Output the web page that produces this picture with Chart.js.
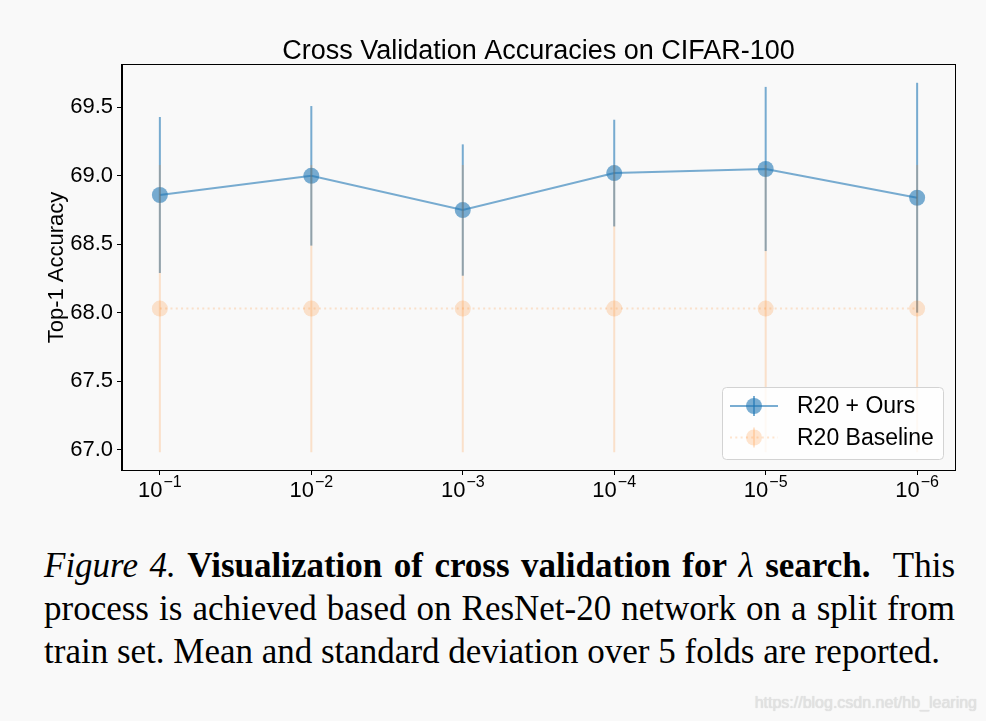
<!DOCTYPE html>
<html>
<head>
<meta charset="utf-8">
<script src="https://cdn.jsdelivr.net/npm/chart.js@4.4.1/dist/chart.umd.min.js"></script>
<style>
  body { margin: 0; background: #f9f9f9; width: 986px; height: 721px; overflow: hidden; position: relative; }
  #chartBox { position: absolute; left: 0; top: 0; width: 986px; height: 520px; }
  .caption { position: absolute; left: 44px; top: 544px; width: 911px; font-family: 'Liberation Serif', 'Times New Roman', serif; font-size: 35px; line-height: 43px; color: #000; }
  .caption div { text-align: justify; text-align-last: justify; white-space: nowrap; }
  .caption div.last { text-align-last: left; }
  .watermark { position: absolute; right: 9px; top: 694px; font-family: 'Liberation Sans', Arial, sans-serif; font-size: 16px; color: #e2e2e2; text-shadow: 0 0 1px #cfcfcf; }
</style>
</head>
<body>
<div id="chartBox"><canvas id="cvChart" width="986" height="520"></canvas></div>
<div class="caption">
  <div><i>Figure 4.</i> <b>Visualization of cross validation for</b> <i>λ</i> <b>search.</b>&nbsp; This</div>
  <div>process is achieved based on ResNet-20 network on a split from</div>
  <div class="last">train set. Mean and standard deviation over 5 folds are reported.</div>
</div>
<div class="watermark">https://blog.csdn.net/hb_learing</div>
<script>
// lambda exponents (x axis: 10^exp)
const lambdaExp = ['-1', '-2', '-3', '-4', '-5', '-6'];
const yTicks = [67.0, 67.5, 68.0, 68.5, 69.0, 69.5];
const chartTitle = 'Cross Validation Accuracies on CIFAR-100';

// R20 + Ours: mean and std over 5 folds
const oursMean = [68.86, 69.00, 68.75, 69.02, 69.05, 68.84];
const oursStd = [0.57, 0.51, 0.48, 0.39, 0.60, 0.84];

// R20 Baseline
const baseMean = [68.03, 68.03, 68.03, 68.03, 68.03, 68.03];
const baseStd = [1.05, 1.05, 1.05, 1.05, 1.05, 1.05];

const blue = 'rgba(31,119,180,0.6)';
const orange = 'rgba(255,127,14,0.2)';
const sans = "'Liberation Sans', Arial, sans-serif";

const series = [
  { label: 'R20 + Ours', mean: oursMean, std: oursStd, color: blue, dash: [] },
  { label: 'R20 Baseline', mean: baseMean, std: baseStd, color: orange, dash: [2, 3.3] }
];

// vertical error bars, drawn right after each dataset
const errorBars = {
  id: 'errorBars',
  afterDatasetDraw(chart, args) {
    const s = series[args.index];
    const { ctx, scales: { x, y } } = chart;
    ctx.save();
    ctx.strokeStyle = s.color;
    ctx.lineWidth = 2;
    s.mean.forEach((m, i) => {
      const px = x.getPixelForValue(i);
      ctx.beginPath();
      ctx.moveTo(px, y.getPixelForValue(m - s.std[i]));
      ctx.lineTo(px, y.getPixelForValue(m + s.std[i]));
      ctx.stroke();
    });
    ctx.restore();
  }
};

// title over the plot area, box frame, x tick labels with superscripts, legend
const decorations = {
  id: 'decorations',
  afterDraw(chart) {
    const { ctx, chartArea: a, scales: { x } } = chart;
    ctx.save();
    ctx.fillStyle = '#000';
    ctx.font = '27px ' + sans;
    ctx.textAlign = 'center';
    ctx.textBaseline = 'alphabetic';
    ctx.fillText(chartTitle, (a.left + a.right) / 2, 59);

    ctx.strokeStyle = '#000';
    ctx.lineWidth = 1;
    ctx.strokeRect(Math.round(a.left) - 0.5, Math.round(a.top) - 0.5, Math.round(a.right - a.left) + 1, Math.round(a.bottom - a.top) + 1);

    // x tick labels: 10^exp
    lambdaExp.forEach((e, i) => {
      const px = x.getPixelForValue(i);
      ctx.font = '22px ' + sans;
      const wBase = ctx.measureText('10').width;
      ctx.font = '16px ' + sans;
      const sup = '\u2212' + e.replace('-', '');
      const wSup = ctx.measureText(sup).width;
      const start = px - (wBase + 1 + wSup) / 2;
      ctx.font = '22px ' + sans;
      ctx.textAlign = 'left';
      ctx.fillText('10', start, 497);
      ctx.font = '16px ' + sans;
      ctx.fillText(sup, start + wBase + 1, 487);
    });

    // legend
    const lx = 722, ly = 387, lw = 221, lh = 72;
    ctx.beginPath();
    ctx.roundRect(lx + 0.5, ly + 0.5, lw, lh, 4);
    ctx.fillStyle = 'rgba(255,255,255,0.8)';
    ctx.fill();
    ctx.strokeStyle = '#d3d3d3';
    ctx.stroke();
    series.forEach((s, k) => {
      const cy = 406 + k * 31.5;
      ctx.strokeStyle = s.color;
      ctx.fillStyle = s.color;
      ctx.lineWidth = 2;
      ctx.setLineDash(s.dash);
      ctx.beginPath();
      ctx.moveTo(730, cy);
      ctx.lineTo(778, cy);
      ctx.stroke();
      ctx.setLineDash([]);
      ctx.beginPath();
      ctx.arc(754, cy, 8, 0, Math.PI * 2);
      ctx.fill();
      ctx.beginPath();
      ctx.moveTo(754, cy - 10);
      ctx.lineTo(754, cy + 10);
      ctx.stroke();
      ctx.fillStyle = '#000';
      ctx.font = '23px ' + sans;
      ctx.textAlign = 'left';
      ctx.textBaseline = 'middle';
      ctx.fillText(s.label, 797, cy + 1);
    });
    ctx.restore();
  }
};

new Chart(document.getElementById('cvChart').getContext('2d'), {
  type: 'line',
  data: {
    datasets: series.map((s, k) => ({
      label: s.label,
      data: s.mean.map((m, i) => ({ x: i, y: m })),
      borderColor: s.color,
      backgroundColor: s.color,
      borderWidth: 2,
      borderDash: s.dash,
      pointRadius: 8,
      pointBorderWidth: 0,
      pointBackgroundColor: s.color,
      tension: 0,
      order: 2 - k
    }))
  },
  options: {
    responsive: false,
    animation: false,
    layout: { padding: { left: 0, right: 31, top: 65, bottom: 0 } },
    plugins: {
      legend: { display: false },
      tooltip: { enabled: false },
      title: { display: false }
    },
    scales: {
      x: {
        type: 'linear',
        min: -0.25,
        max: 5.25,
        afterBuildTicks: s => { s.ticks = lambdaExp.map((_, i) => ({ value: i })); },
        afterFit: s => { s.height = 50; },
        ticks: { display: false },
        grid: { drawOnChartArea: false, tickLength: 5, color: '#000', tickColor: '#000' },
        border: { color: '#000', width: 1 }
      },
      y: {
        min: 66.85,
        max: 69.81,
        afterBuildTicks: s => { s.ticks = yTicks.map(v => ({ value: v })); },
        afterFit: s => { s.width = 122; },
        ticks: {
          callback: v => v.toFixed(1),
          color: '#000',
          font: { family: sans, size: 22 },
          padding: 4
        },
        grid: { drawOnChartArea: false, tickLength: 5, color: '#000', tickColor: '#000' },
        border: { color: '#000', width: 1 },
        title: {
          display: true,
          text: 'Top-1 Accuracy',
          color: '#000',
          font: { family: sans, size: 22 },
          padding: { top: 44, bottom: 0 }
        }
      }
    }
  },
  plugins: [errorBars, decorations]
});
</script>
</body>
</html>
